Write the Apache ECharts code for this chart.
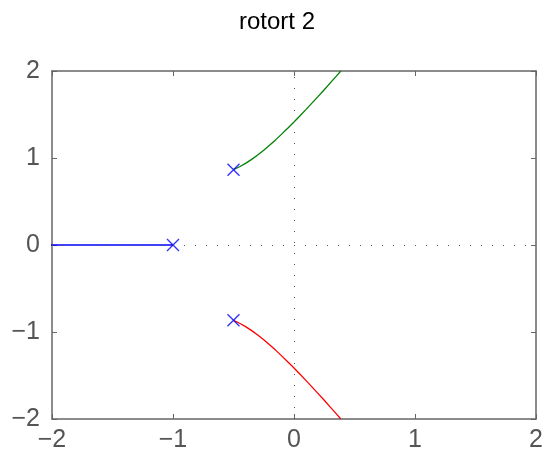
<!DOCTYPE html>
<html>
<head>
<meta charset="utf-8">
<script src="https://cdn.jsdelivr.net/npm/echarts@6/dist/echarts.min.js"></script>
<style>
  html, body { margin: 0; padding: 0; background: #fff; }
  #chart { width: 554px; height: 458px; }
</style>
</head>
<body>
<div id="chart"></div>
<script>
// Open-loop poles
const poles = [[-1, 0], [-0.5, 0.866], [-0.5, -0.866]];

// Root locus branches (real, imaginary)
const branchReal = [[-1, 0], [-2.05, 0]];
const branchUpper = [
  [-0.5, 0.866], [-0.45, 0.899], [-0.4, 0.938], [-0.35, 0.984], [-0.3, 1.034],
  [-0.25, 1.090], [-0.2, 1.149], [-0.15, 1.211], [-0.1, 1.277], [-0.05, 1.344],
  [0, 1.414], [0.05, 1.486], [0.1, 1.559], [0.15, 1.633], [0.2, 1.709],
  [0.25, 1.785], [0.3, 1.863], [0.35, 1.941], [0.387, 2.0]
];
const branchLower = [
  [-0.5, -0.866], [-0.45, -0.899], [-0.4, -0.938], [-0.35, -0.984], [-0.3, -1.034],
  [-0.25, -1.090], [-0.2, -1.149], [-0.15, -1.211], [-0.1, -1.277], [-0.05, -1.344],
  [0, -1.414], [0.05, -1.486], [0.1, -1.559], [0.15, -1.633], [0.2, -1.709],
  [0.25, -1.785], [0.3, -1.863], [0.35, -1.941], [0.387, -2.0]
];

const xTicks = [-2, -1, 0, 1, 2];
const yTicks = [-2, -1, 0, 1, 2];

const minus = v => String(v).replace('-', '\u2212');
const frame = '#666';
const labelFont = { fontFamily: 'Liberation Sans, Arial, sans-serif', fontSize: 25, color: '#555' };

const chart = echarts.init(document.getElementById('chart'));
chart.setOption({
  animation: false,
  title: {
    text: 'rotort 2', left: 'center', top: 5,
    textStyle: { fontFamily: 'Liberation Sans, Arial, sans-serif', fontSize: 24, fontWeight: 'normal', color: '#000' }
  },
  grid: { left: 52, right: 18, top: 71, bottom: 39, show: false },
  xAxis: [
    {
      type: 'value', min: xTicks[0], max: xTicks[xTicks.length - 1], interval: 1,
      axisLine: { onZero: false, lineStyle: { color: frame, width: 1.5 } },
      axisTick: { inside: true, length: 5, lineStyle: { color: frame } },
      axisLabel: { ...labelFont, margin: 9, formatter: minus },
      splitLine: { show: false }
    },
    {
      type: 'value', position: 'top', min: xTicks[0], max: xTicks[xTicks.length - 1], interval: 1,
      axisLine: { onZero: false, lineStyle: { color: frame, width: 1.5 } },
      axisTick: { inside: true, length: 5, lineStyle: { color: frame } },
      axisLabel: { show: false }, splitLine: { show: false }
    }
  ],
  yAxis: [
    {
      type: 'value', min: yTicks[0], max: yTicks[yTicks.length - 1], interval: 1,
      axisLine: { show: true, onZero: false, lineStyle: { color: frame, width: 1.5 } },
      axisTick: { show: true, inside: true, length: 5, lineStyle: { color: frame } },
      axisLabel: { ...labelFont, margin: 12, formatter: minus },
      splitLine: { show: false }
    },
    {
      type: 'value', position: 'right', min: yTicks[0], max: yTicks[yTicks.length - 1], interval: 1,
      axisLine: { show: true, onZero: false, lineStyle: { color: frame, width: 1.5 } },
      axisTick: { show: true, inside: true, length: 5, lineStyle: { color: frame } },
      axisLabel: { show: false }, splitLine: { show: false }
    }
  ],
  series: [
    {
      type: 'line', data: branchReal, symbol: 'none', clip: true,
      lineStyle: { color: '#0000ff', width: 1.3 },
      markLine: {
        silent: true, symbol: 'none', label: { show: false },
        lineStyle: { color: '#555', type: [1, 10], width: 1 },
        data: [{ xAxis: 0 }, { yAxis: 0 }]
      },
      z: 3
    },
    {
      type: 'line', data: branchUpper, symbol: 'none', clip: true,
      lineStyle: { color: '#008000', width: 1.3 }, z: 3
    },
    {
      type: 'line', data: branchLower, symbol: 'none', clip: true,
      lineStyle: { color: '#ff0000', width: 1.3 }, z: 3
    },
    {
      type: 'scatter', data: poles, symbol: 'path://M0,0L10,10M10,0L0,10', symbolSize: 12,
      itemStyle: { color: 'none', borderColor: '#0000ff', borderWidth: 1.4 }, z: 4
    }
  ]
});
</script>
</body>
</html>
